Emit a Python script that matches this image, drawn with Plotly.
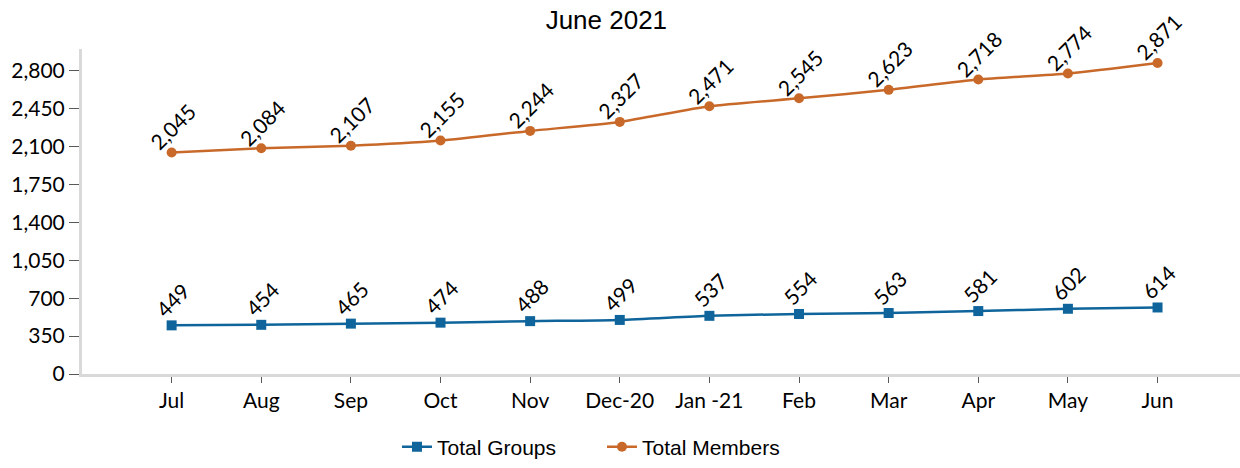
import plotly.graph_objects as go

months = ["Jul", "Aug", "Sep", "Oct", "Nov", "Dec-20", "Jan -21", "Feb", "Mar", "Apr", "May", "Jun"]
total_groups = [449, 454, 465, 474, 488, 499, 537, 554, 563, 581, 602, 614]
total_members = [2045, 2084, 2107, 2155, 2244, 2327, 2471, 2545, 2623, 2718, 2774, 2871]
y_ticks = [0, 350, 700, 1050, 1400, 1750, 2100, 2450, 2800]

BLUE = "#0f659b"
ORANGE = "#c8692a"
xs = list(range(len(months)))
FONT = "Lato, Open Sans, sans-serif"

fig = go.Figure()
fig.add_trace(go.Scatter(
    x=xs, y=total_groups, name="Total Groups", mode="lines+markers",
    line=dict(color=BLUE, width=2.5, shape="spline", smoothing=0.6),
    marker=dict(symbol="square", size=10, color=BLUE),
))
fig.add_trace(go.Scatter(
    x=xs, y=total_members, name="Total Members", mode="lines+markers",
    line=dict(color=ORANGE, width=2.5, shape="spline", smoothing=0.6),
    marker=dict(symbol="circle", size=10, color=ORANGE),
))

annotations = []
for series in (total_groups, total_members):
    for i, v in enumerate(series):
        annotations.append(dict(
            x=i, y=v, xref="x", yref="y", text=f"{v:,}", showarrow=False,
            textangle=-45, yshift=26, xshift=1,
            font=dict(family=FONT, size=21, color="#000000"),
        ))

fig.update_layout(
    width=1240, height=468,
    margin=dict(l=82, r=0, t=49, b=82),
    paper_bgcolor="white", plot_bgcolor="white",
    title=dict(text="June 2021", x=0.489, xanchor="center", y=0.977, yanchor="top",
               font=dict(family="Liberation Sans, Arial, sans-serif", size=26, color="#000000")),
    showlegend=True,
    legend=dict(orientation="h", x=0.272, xanchor="left", y=-0.225, yanchor="middle",
                font=dict(family="Liberation Sans, Arial, sans-serif", size=21, color="#000000"),
                entrywidth=160, traceorder="normal"),
    annotations=annotations,
)
fig.update_xaxes(
    range=[-1, 11.92], tickvals=xs, ticktext=months,
    showline=True, linecolor="#d9d9d9", linewidth=3,
    ticks="outside", ticklen=6, tickcolor="#595959", tickwidth=1,
    showgrid=False, zeroline=False, automargin=False,
    tickfont=dict(family=FONT, size=21, color="#000000"),
)
fig.update_yaxes(
    range=[0, 3000], tickvals=y_ticks, ticktext=[f"{t:,}" for t in y_ticks],
    showline=True, linecolor="#d9d9d9", linewidth=3,
    ticks="outside", ticklen=10, tickcolor="#595959", tickwidth=1,
    showgrid=False, zeroline=False, automargin=False,
    tickfont=dict(family=FONT, size=21, color="#000000"),
)

fig.write_html(
    "out.html",
    config={"displayModeBar": False},
    post_script="document.body.style.margin='0';document.body.style.overflow='hidden';",
)
